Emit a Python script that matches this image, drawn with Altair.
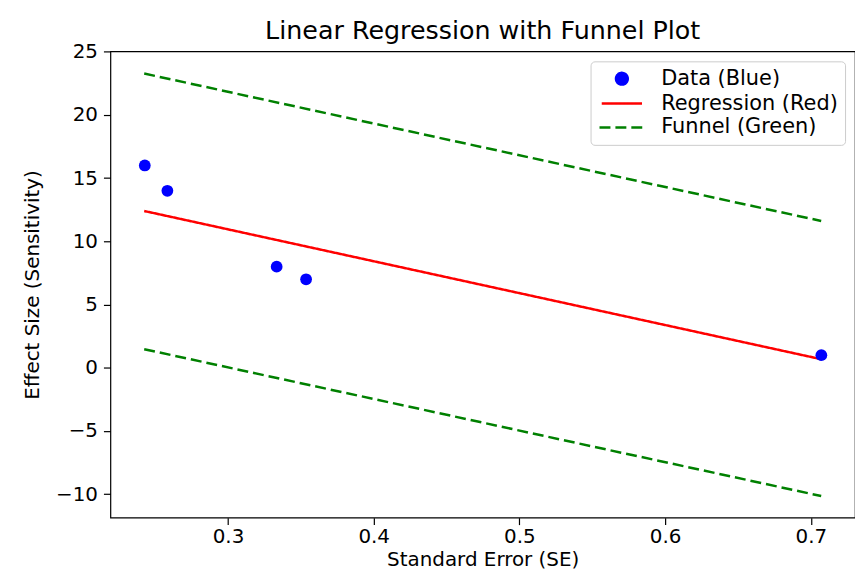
import altair as alt
import pandas as pd

# ---- data ----
se = [0.2429, 0.2584, 0.3334, 0.3536, 0.7072]
effect = [16.0, 14.0, 8.0, 7.0, 1.0]

line_se = [0.2425, 0.7071]
reg_effect = [12.40, 0.68]
funnel_upper = [23.27, 11.61]
funnel_lower = [1.47, -10.14]

series = ["Data (Blue)", "Regression (Red)", "Funnel (Green)"]
colors = ["#0000ff", "#ff0000", "#008000"]
x_ticks = [0.3, 0.4, 0.5, 0.6, 0.7]
y_ticks = [-10, -5, 0, 5, 10, 15, 20, 25]

pts = pd.DataFrame({"se": se, "effect": effect, "series": series[0]})
reg = pd.DataFrame({"se": line_se, "effect": reg_effect,
                    "series": series[1], "part": "reg"})
fun = pd.DataFrame({"se": line_se + line_se,
                    "effect": funnel_upper + funnel_lower,
                    "series": series[2],
                    "part": ["upper", "upper", "lower", "lower"]})
lines = pd.concat([reg, fun], ignore_index=True)

FONT = "DejaVu Sans"
FS = 20

xs = alt.Scale(domain=[0.2193, 0.7303], nice=False, zero=False)
ys = alt.Scale(domain=[-11.85, 25.02], nice=False, zero=False)

x_enc = alt.X("se:Q", scale=xs, title="Standard Error (SE)",
              axis=alt.Axis(values=x_ticks, format=".1f", labelPadding=2,
                            titlePadding=3))
y_enc = alt.Y("effect:Q", scale=ys, title="Effect Size (Sensitivity)",
              axis=alt.Axis(values=y_ticks, format="d", labelPadding=6,
                            titlePadding=13,
                            labelExpr="replace(datum.label, '-', '\u2212')"))

LINE_SYM = "M-3,0H3"
legend = alt.Legend(title=None, orient="top-right", offset=10,
                    labelFont=FONT, labelFontSize=21, labelColor="black",
                    labelLimit=400,
                    strokeColor="#cccccc", cornerRadius=4, fillColor="white",
                    padding=7, labelOffset=29, symbolOffset=14, rowPadding=2,
                    symbolStrokeWidth=2.5)

color = alt.Color("series:N", scale=alt.Scale(domain=series, range=colors),
                  legend=legend)
shape = alt.Shape("series:N", scale=alt.Scale(domain=series,
                  range=["circle", LINE_SYM, LINE_SYM]), legend=legend)
size = alt.Size("series:N", scale=alt.Scale(domain=series,
                range=[140, 225, 225]), legend=legend)
dash = alt.StrokeDash("series:N", scale=alt.Scale(domain=series,
                      range=[[1, 0], [1, 0], [11, 5]]), legend=legend)

points = alt.Chart(pts).mark_point(filled=True, opacity=1, strokeWidth=0).encode(
    x=x_enc, y=y_enc, color=color, shape=shape, size=size)

line_layer = alt.Chart(lines).mark_line(strokeWidth=2.5).encode(
    x=x_enc, y=y_enc, color=color, strokeDash=dash, detail="part:N")

chart = alt.layer(line_layer, points).properties(
    width=749, height=469,
    title=alt.TitleParams("Linear Regression with Funnel Plot", font=FONT,
                          fontSize=25.5, fontWeight="normal", color="black",
                          anchor="middle", frame="group", offset=7, dy=10),
    autosize=alt.AutoSizeParams(type="none"),
    padding={"left": 103, "top": 42, "right": 0, "bottom": 51},
    background="white",
).configure_view(
    stroke="black", strokeWidth=1.2
).configure_axis(
    labelFont=FONT, labelFontSize=FS, labelColor="black",
    titleFont=FONT, titleFontSize=FS, titleFontWeight="normal", titleColor="black",
    tickColor="black", tickSize=7, tickWidth=1.2, domain=False, grid=False
)

chart.save("out.html", embed_options={"renderer": "svg", "actions": False})
